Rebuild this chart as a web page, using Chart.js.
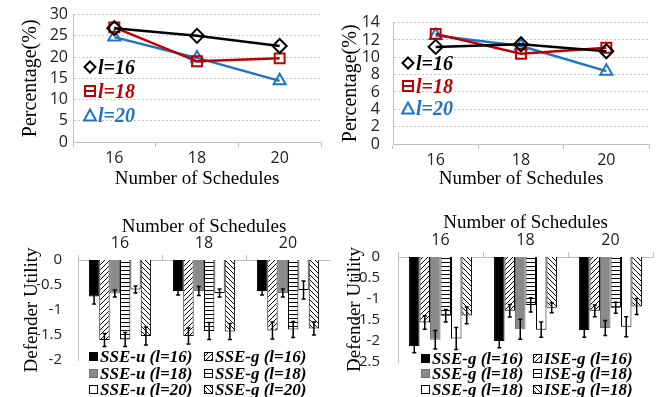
<!DOCTYPE html>
<html>
<head>
<meta charset="utf-8">
<script src="https://cdn.jsdelivr.net/npm/chart.js@4/dist/chart.umd.min.js"></script>
<style>
  body { margin: 0; background: #fff; width: 660px; height: 397px; position: relative; overflow: hidden; }
  canvas.plot { position: absolute; }
  .leg { position: absolute; font-family: "Liberation Serif", serif; font-weight: bold; font-style: italic; white-space: nowrap; line-height: 1; display: flex; align-items: center; }
  .leg svg, .leg canvas { flex: none; }
</style>
</head>
<body>
<canvas class="plot" id="pctA" width="330" height="190" style="left:0;top:0"></canvas>
<canvas class="plot" id="pctB" width="330" height="190" style="left:330px;top:0"></canvas>
<canvas class="plot" id="utilA" width="330" height="207" style="left:0;top:190px"></canvas>
<canvas class="plot" id="utilB" width="330" height="207" style="left:330px;top:190px"></canvas>
<div id="legends"></div>
<script>
// ---- data ----
const schedules = ['16', '18', '20'];
const lineNames = ['l=16', 'l=18', 'l=20'];

// top left
const pctA16 = [26.8, 25.0, 22.6];
const pctA18 = [27.0, 19.0, 19.7];
const pctA20 = [24.7, 19.8, 14.4];
// top right
const pctB16 = [11.2, 11.5, 10.7];
const pctB18 = [12.7, 10.4, 11.1];
const pctB20 = [12.5, 11.3, 8.4];

// bottom left
const utilNamesA = ['SSE-u (l=16)', 'SSE-g (l=16)', 'SSE-u (l=18)', 'SSE-g (l=18)', 'SSE-u (l=20)', 'SSE-g (l=20)'];
const uSseU16 = [-0.73, -0.62, -0.62], eSseU16 = [0.15, 0.08, 0.08];
const uSseG16 = [-1.60, -1.52, -1.41], eSseG16 = [0.13, 0.16, 0.17];
const uSseU18 = [-0.67, -0.62, -0.66], eSseU18 = [0.07, 0.09, 0.08];
const uSseG18 = [-1.59, -1.42, -1.39], eSseG18 = [0.14, 0.17, 0.16];
const uSseU20 = [-0.59, -0.66, -0.60], eSseU20 = [0.07, 0.08, 0.18];
const uSseG20 = [-1.52, -1.43, -1.37], eSseG20 = [0.18, 0.16, 0.13];

// bottom right (labels kept as printed in the figure)
const utilNamesB = ['SSE-g (l=16)', 'ISE-g (l=16)', 'SSE-g (l=18)', 'ISE-g (l=18)', 'SSE-g (l=18)', 'ISE-g (l=18)'];
const vSse16 = [-2.12, -2.00, -1.74], fSse16 = [0.16, 0.16, 0.17];
const vIse16 = [-1.56, -1.28, -1.28], fIse16 = [0.16, 0.15, 0.14];
const vSse18 = [-1.97, -1.72, -1.69], fSse18 = [0.22, 0.24, 0.18];
const vIse18 = [-1.40, -1.14, -1.21], fIse18 = [0.15, 0.17, 0.13];
const vSse18b = [-1.94, -1.73, -1.66], fSse18b = [0.26, 0.18, 0.24];
const vIse18b = [-1.39, -1.21, -1.18], fIse18b = [0.20, 0.12, 0.19];

// ---- styles ----
const tickFont = { family: 'Open Sans', size: 16 };
const barTickFont = { family: 'Open Sans', size: 15 };
const serif = size => ({ family: 'Liberation Serif', size });
const lineColors = ['#000000', '#c00000', '#1f75c4'];
const lineMarks = ['rectRot', 'rect', 'triangle'];
const axisGrey = '#bfbfbf';
const plainNum = v => String(v);

function pattern(kind) {
  const s = kind === 'flat' ? 4 : 5;
  const c = document.createElement('canvas');
  c.width = s; c.height = s;
  const g = c.getContext('2d');
  g.fillStyle = '#fff'; g.fillRect(0, 0, s, s);
  g.strokeStyle = '#000'; g.lineWidth = 1;
  g.beginPath();
  if (kind === 'flat') { g.moveTo(0, 0.5); g.lineTo(s, 0.5); }
  else if (kind === 'up') { for (let k = -1; k <= 1; k++) { g.moveTo(k * s, s); g.lineTo(k * s + s, 0); } }
  else { for (let k = -1; k <= 1; k++) { g.moveTo(k * s, 0); g.lineTo(k * s + s, s); } }
  g.stroke();
  return g.createPattern(c, 'repeat');
}
const barFills = ['#000000', pattern('up'), '#8a8a8a', pattern('flat'), '#ffffff', pattern('down')];
const barBorders = ['#000000', '#000000', '#6e6e6e', '#000000', '#000000', '#000000'];

// error bars drawn on top of the bars
const errorBars = {
  id: 'errorBars',
  afterDatasetsDraw(chart) {
    const ctx = chart.ctx, y = chart.scales.y;
    chart.data.datasets.forEach((ds, i) => {
      chart.getDatasetMeta(i).data.forEach((bar, j) => {
        const hi = y.getPixelForValue(ds.data[j] + ds.errors[j]);
        const lo = y.getPixelForValue(ds.data[j] - ds.errors[j]);
        ctx.save();
        ctx.strokeStyle = '#000'; ctx.lineWidth = 1.5;
        ctx.beginPath();
        ctx.moveTo(bar.x, hi); ctx.lineTo(bar.x, lo);
        ctx.moveTo(bar.x - 2, hi); ctx.lineTo(bar.x + 2, hi);
        ctx.moveTo(bar.x - 2, lo); ctx.lineTo(bar.x + 2, lo);
        ctx.stroke();
        ctx.restore();
      });
    });
  }
};

function makeLine(id, series, yMax, yStep, box) {
  return new Chart(document.getElementById(id), {
    type: 'line',
    data: {
      labels: schedules,
      datasets: series.map((d, i) => ({
        label: lineNames[i], data: d,
        borderColor: lineColors[i], backgroundColor: 'rgba(255,255,255,0)',
        borderWidth: 2.5, tension: 0,
        pointStyle: lineMarks[i], pointRadius: 7, pointBorderWidth: 2,
        pointBackgroundColor: 'rgba(255,255,255,0)'
      }))
    },
    options: {
      responsive: false, animation: false,
      layout: { padding: { top: box.top, right: box.right, bottom: 0, left: 0 } },
      plugins: { legend: { display: false }, tooltip: { enabled: false } },
      scales: {
        x: {
          offset: true,
          grid: { offset: true, drawOnChartArea: false, tickLength: 5, color: axisGrey },
          border: { color: axisGrey },
          ticks: { font: tickFont, color: '#222', padding: 2, autoSkip: false },
          title: { display: true, text: 'Number of Schedules', font: serif(19), color: '#000', padding: { top: 2, bottom: 0 } },
          afterFit: s => { s.height = box.xh; }
        },
        y: {
          min: 0, max: yMax,
          grid: { color: '#c8c8c8', drawTicks: false },
          border: { color: axisGrey, dash: [2, 2] },
          ticks: { stepSize: yStep, font: tickFont, color: '#222', padding: box.yp, autoSkip: false, callback: plainNum },
          title: { display: true, text: 'Percentage(%)', font: serif(20), color: '#000', padding: { top: box.yt, bottom: 0 } },
          afterFit: s => { s.width = box.yw; }
        }
      }
    }
  });
}

function makeBars(id, names, vals, errs, yMin, box) {
  return new Chart(document.getElementById(id), {
    type: 'bar',
    data: {
      labels: schedules,
      datasets: vals.map((d, i) => ({
        label: names[i], data: d, errors: errs[i],
        backgroundColor: barFills[i], borderColor: barBorders[i], borderWidth: 1,
        categoryPercentage: 0.74, barPercentage: 1
      }))
    },
    options: {
      responsive: false, animation: false,
      layout: { padding: { top: 0, right: box.right, bottom: box.bottom, left: 0 } },
      plugins: { legend: { display: false }, tooltip: { enabled: false } },
      scales: {
        x: {
          position: 'top',
          grid: { offset: true, drawOnChartArea: false, tickLength: 5, color: axisGrey },
          border: { color: axisGrey },
          ticks: { font: tickFont, color: '#222', padding: 2, autoSkip: false },
          title: { display: true, text: 'Number of Schedules', font: serif(19), color: '#000', padding: { top: box.xt, bottom: 0 } },
          afterFit: s => { s.height = box.xh; }
        },
        y: {
          min: yMin, max: 0,
          grid: { display: false },
          border: { color: axisGrey },
          ticks: { stepSize: 0.5, font: barTickFont, color: '#222', padding: box.yp, autoSkip: false, callback: plainNum },
          title: { display: true, text: 'Defender Utility', font: serif(19), color: '#000', padding: { top: box.yt, bottom: 0 } },
          afterFit: s => { s.width = box.yw; }
        }
      }
    },
    plugins: [errorBars]
  });
}

makeLine('pctA', [pctA16, pctA18, pctA20], 30, 5, { top: 10, right: 2, xh: 48, yw: 73, yp: 5, yt: 19 });
makeLine('pctB', [pctB16, pctB18, pctB20], 14, 2, { top: 12, right: 11, xh: 46, yw: 63, yp: 13, yt: 9 });
makeBars('utilA', utilNamesA,
  [uSseU16, uSseG16, uSseU18, uSseG18, uSseU20, uSseG20],
  [eSseU16, eSseG16, eSseU18, eSseG18, eSseU20, eSseG20],
  -2, { right: 0, bottom: 37, xh: 70, yw: 78, yp: 8, yt: 21, xt: 26 });
makeBars('utilB', utilNamesB,
  [vSse16, vIse16, vSse18, vIse18, vSse18b, vIse18b],
  [fSse16, fIse16, fSse18, fIse18, fSse18b, fIse18b],
  -2.5, { right: 7, bottom: 35, xh: 67, yw: 68, yp: 10, yt: 14, xt: 22 });

// ---- legends (html) ----
const legendHost = document.getElementById('legends');
function markerSvg(kind, color) {
  let shape;
  if (kind === 'rectRot') shape = `<polygon points="7,1.5 12.5,7 7,12.5 1.5,7" fill="none" stroke="${color}" stroke-width="2"/>`;
  else if (kind === 'rect') shape = `<rect x="2" y="2" width="10" height="10" fill="none" stroke="${color}" stroke-width="2"/><line x1="2" y1="7" x2="12" y2="7" stroke="${color}" stroke-width="2"/>`;
  else shape = `<polygon points="7,1.5 13,12.5 1,12.5" fill="none" stroke="${color}" stroke-width="2"/>`;
  return `<svg width="14" height="14" viewBox="0 0 14 14">${shape}</svg>`;
}
function lineLegend(x, ys) {
  lineNames.forEach((name, i) => {
    const d = document.createElement('div');
    d.className = 'leg';
    d.style.cssText = `left:${x}px;top:${ys[i] - 10}px;font-size:20px;color:${lineColors[i]}`;
    d.innerHTML = markerSvg(lineMarks[i], lineColors[i]) + `<span style="margin-left:1px">${name}</span>`;
    legendHost.appendChild(d);
  });
}
lineLegend(83, [67, 91, 115]);
lineLegend(401, [63, 86, 108]);

function barLegend(names, cols, rows) {
  names.forEach((name, i) => {
    const d = document.createElement('div');
    d.className = 'leg';
    d.style.cssText = `left:${cols[i % 2]}px;top:${rows[Math.floor(i / 2)] - 9}px;font-size:17px;height:18px;color:#000`;
    const sw = document.createElement('canvas');
    sw.width = 9; sw.height = 9;
    const g = sw.getContext('2d');
    g.fillStyle = barFills[i]; g.fillRect(0, 0, 9, 9);
    g.strokeStyle = barBorders[i]; g.lineWidth = 1; g.strokeRect(0.5, 0.5, 8, 8);
    sw.style.marginRight = '2px';
    d.appendChild(sw);
    const t = document.createElement('span');
    t.textContent = name;
    d.appendChild(t);
    legendHost.appendChild(d);
  });
}
barLegend(utilNamesA, [89, 204], [356, 373, 389]);
barLegend(utilNamesB, [421, 533], [358, 373, 389]);
</script>
</body>
</html>
